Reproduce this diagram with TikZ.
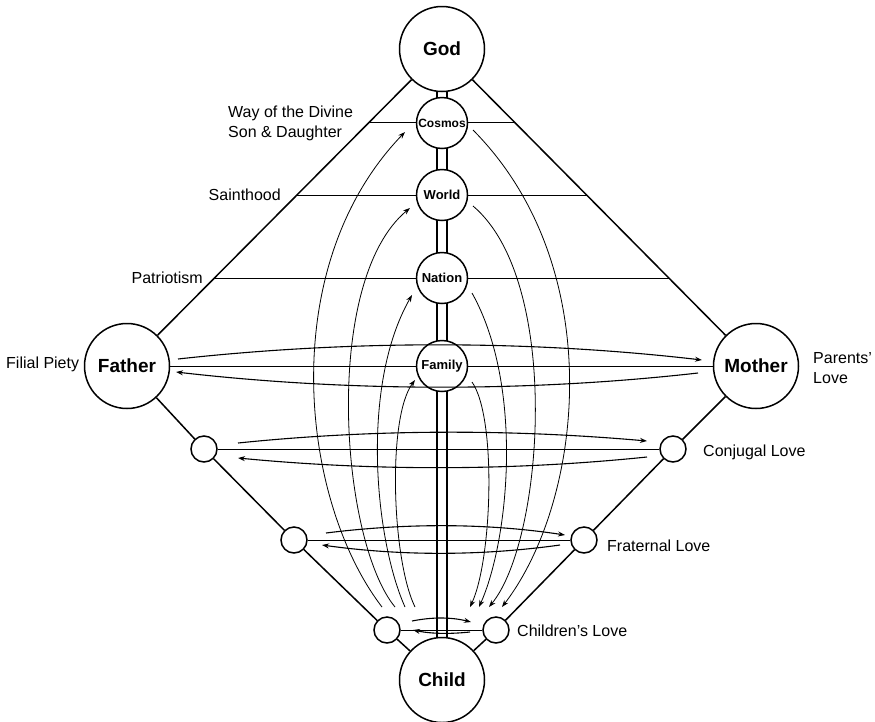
\documentclass[tikz,border=0pt]{standalone}
\usepackage{fontspec}
\setmainfont{Liberation Sans}
\usetikzlibrary{arrows.meta,calc,backgrounds}

\begin{document}
\begin{tikzpicture}[x=1pt,y=-1pt,
  big/.style={circle,draw,line width=1.5pt,fill=white,minimum size=85pt,inner sep=0pt,
    font=\fontsize{19}{22}\selectfont\bfseries},
  mid/.style={circle,draw,line width=1.5pt,fill=white,minimum size=51pt,inner sep=0pt,
    font=\fontsize{13}{15}\selectfont\bfseries},
  small/.style={circle,draw,line width=1.5pt,fill=white,minimum size=26pt,inner sep=0pt},
  frame/.style={line width=1.5pt},
  level/.style={line width=1pt},
  love/.style={line width=1.1pt,-{Stealth[length=7pt,width=5pt]}},
  rise/.style={line width=0.8pt,-{Stealth[length=7pt,width=5pt]}},
  lbl/.style={font=\fontsize{16}{19.3}\selectfont,inner sep=0pt}
]
\useasboundingbox (0,0) rectangle (875,721);

% ---- main figures ----
\node[big] (god) at (442,49) {God};
\node[mid,font=\fontsize{12}{14}\selectfont\bfseries] (cosmos) at (442,123) {Cosmos};
\node[mid] (world) at (442,195) {World};
\node[mid] (nation) at (442,278) {Nation};
\node[mid] (family) at (442,366) {Family};
\node[big] (father) at (127,366) {Father};
\node[big] (mother) at (756,366) {Mother};
\node[big] (child) at (442,680) {Child};

% ---- small stations on the sides ----
\node[small] (l1) at (204,449) {};
\node[small] (r1) at (673,449) {};
\node[small] (l2) at (294,540) {};
\node[small] (r2) at (584,540) {};
\node[small] (l3) at (387,630) {};
\node[small] (r3) at (496,630) {};

% ---- ends of the level lines on the two diagonals ----
\coordinate (wayL) at ($(god)!0.2334!(father)$);
\coordinate (wayR) at ($(god)!0.2334!(mother)$);
\coordinate (saintL) at ($(god)!0.4606!(father)$);
\coordinate (saintR) at ($(god)!0.4606!(mother)$);
\coordinate (patL) at ($(god)!0.7224!(father)$);
\coordinate (patR) at ($(god)!0.7224!(mother)$);

\begin{scope}[on background layer]
  % central double pillar
  \draw[frame] ([xshift=-5pt]god.center) -- ([xshift=-5pt]child.center);
  \draw[frame] ([xshift=5pt]god.center) -- ([xshift=5pt]child.center);
  % level lines
  \draw[level] (wayL) -- (wayR);
  \draw[level] (saintL) -- (saintR);
  \draw[level] (patL) -- (patR);
  \draw[level] (father) -- (mother);
  \draw[level] (l1) -- (r1);
  \draw[level] (l2) -- (r2);
  \draw[level] (l3) -- (r3);
\end{scope}

% ---- outer frame ----
\draw[frame] (god) -- (father);
\draw[frame] (god) -- (mother);
\draw[frame] (father) -- (l1) -- (l2) -- (l3) -- (child);
\draw[frame] (mother) -- (r1) -- (r2) -- (r3) -- (child);

% ---- horizontal love arrows ----
\coordinate (fu0) at (178,359);  \coordinate (fu1) at (702,360);
\coordinate (fd0) at (698,373);  \coordinate (fd1) at (176,372);
\draw[love] (fu0) .. controls (350,340) and (530,340) .. (fu1);
\draw[love] (fd0) .. controls (530,392) and (350,392) .. (fd1);

\coordinate (cu0) at (238,443);  \coordinate (cu1) at (647,441);
\coordinate (cd0) at (647,457);  \coordinate (cd1) at (238,458);
\draw[love] (cu0) .. controls (374,429) and (511,429) .. (cu1);
\draw[love] (cd0) .. controls (511,471) and (374,471) .. (cd1);

\coordinate (bu0) at (326,533);  \coordinate (bu1) at (565,535);
\coordinate (bd0) at (560,545);  \coordinate (bd1) at (322,545);
\draw[love] (bu0) .. controls (406,523) and (486,523) .. (bu1);
\draw[love] (bd0) .. controls (481,556) and (401,556) .. (bd1);

\coordinate (ku0) at (412,621);  \coordinate (ku1) at (471,622);
\coordinate (kd0) at (470,632);  \coordinate (kd1) at (413,630);
\draw[love] (ku0) .. controls (432,617) and (451,617) .. (ku1);
\draw[love] (kd0) .. controls (451,634) and (432,634) .. (kd1);

% ---- rising arrows (left) ----
\coordinate (ac) at (382,607); \coordinate (aw) at (395,607);
\coordinate (an) at (405,607); \coordinate (af) at (415,607);
\coordinate (tc) at (405,132); \coordinate (tw) at (410,208);
\coordinate (tn) at (412,295); \coordinate (tf) at (415,380);
\draw[rise] (ac) .. controls (300,500) and (275,267) .. (tc);
\draw[rise] (aw) .. controls (340,540) and (322,281) .. (tw);
\draw[rise] (an) .. controls (375,540) and (360,386) .. (tn);
\draw[rise] (af) .. controls (392,560) and (387,418) .. (tf);

% ---- descending arrows (right) ----
\coordinate (sc) at (473,130); \coordinate (sw) at (473,206);
\coordinate (sn) at (472,293); \coordinate (sf) at (472,382);
\coordinate (ec) at (502,607); \coordinate (ew) at (489,607);
\coordinate (en) at (479,607); \coordinate (ef) at (470,607);
\draw[rise] (sc) .. controls (609,267) and (584,500) .. (ec);
\draw[rise] (sw) .. controls (562,281) and (544,540) .. (ew);
\draw[rise] (sn) .. controls (524,386) and (509,540) .. (en);
\draw[rise] (sf) .. controls (497,418) and (492,560) .. (ef);

% ---- labels ----
\node[lbl,anchor=west,align=left] (way) at (228,123.4) {Way of the Divine\\Son \& Daughter};
\node[lbl,anchor=base east] (saint) at (281,200.7) {Sainthood};
\node[lbl,anchor=base east] (patriot) at (203,283) {Patriotism};
\node[lbl,anchor=base west] (filial) at (6,368) {Filial Piety};
\node[lbl,anchor=west,align=left] (parents) at (813,368) {Parents'\\Love};
\node[lbl,anchor=base west] (conjugal) at (703,456.7) {Conjugal Love};
\node[lbl,anchor=base west] (fraternal) at (607,551.7) {Fraternal Love};
\node[lbl,anchor=base west] (children) at (517,636.5) {Children's Love};
\end{tikzpicture}
\end{document}
